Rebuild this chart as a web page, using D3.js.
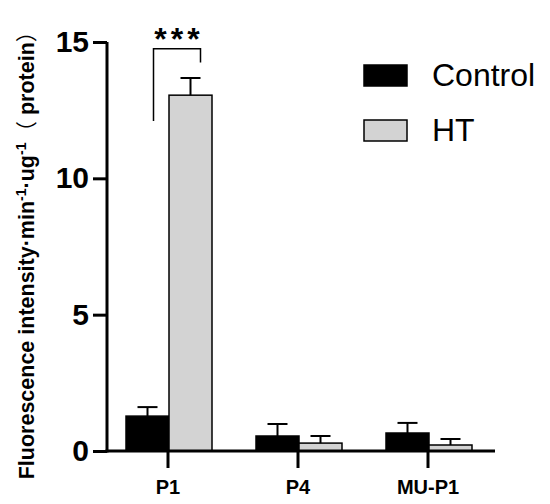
<!DOCTYPE html>
<html>
<head>
<meta charset="utf-8">
<script src="https://cdn.jsdelivr.net/npm/d3@7"></script>
<style>
  body { margin: 0; background: #fff; }
  svg { display: block; }
</style>
</head>
<body>
<svg id="chart"></svg>
<script>
// data
const groups = ["P1", "P4", "MU-P1"];
const series = ["Control", "HT"];
const means = {
    "Control": [1.28, 0.55, 0.66],
    "HT": [13.05, 0.29, 0.22]
};
const errs = {
    "Control": [0.33, 0.44, 0.37],
    "HT": [0.63, 0.26, 0.22]
};
const yTicks = [0, 5, 10, 15];
const colors = { "Control": "#000000", "HT": "#d3d3d3" };

const width = 550;
const height = 504;

const svg = d3.select("#chart")
    .attr("width", width)
    .attr("height", height);

const y = d3.scaleLinear()
    .domain([0, 15])
    .range([451, 42]);

const x0 = d3.scaleBand()
    .domain(groups)
    .range([103, 493]);

const x1 = d3.scaleBand()
    .domain(series)
    .range([0, 86]);

// bars
const g = svg.append("g");
groups.forEach(function (grp, i) {
    const left = x0(grp) + x0.bandwidth() / 2 - 42;
    series.forEach(function (s) {
        const bx = left + x1(s);
        const v = means[s][i];
        g.append("rect")
            .attr("x", bx)
            .attr("y", y(v))
            .attr("width", x1.bandwidth())
            .attr("height", y(0) - y(v))
            .attr("fill", colors[s])
            .attr("stroke", "#000")
            .attr("stroke-width", 1.5);
        // error bar (upper only)
        const cx = bx + x1.bandwidth() / 2;
        const top = y(v + errs[s][i]);
        g.append("line")
            .attr("x1", cx).attr("x2", cx)
            .attr("y1", y(v)).attr("y2", top)
            .attr("stroke", "#000").attr("stroke-width", 2);
        g.append("line")
            .attr("x1", cx - 10).attr("x2", cx + 10)
            .attr("y1", top).attr("y2", top)
            .attr("stroke", "#000").attr("stroke-width", 2);
    });
});

// y axis
const yAxis = svg.append("g")
    .attr("transform", "translate(107,0)")
    .call(d3.axisLeft(y).tickValues(yTicks).tickSize(14).tickPadding(4));
yAxis.select(".domain").attr("stroke-width", 3).attr("d", "M0," + (y(0) + 1.5) + "V" + y(15));
yAxis.selectAll(".tick line").attr("stroke-width", 3);
yAxis.selectAll(".tick text")
    .attr("font-family", "Liberation Sans, Arial, sans-serif")
    .attr("font-weight", "bold")
    .attr("font-size", 30)
    .attr("fill", "#000");

// x axis
const xAxis = svg.append("g")
    .attr("transform", "translate(0," + y(0) + ")")
    .call(d3.axisBottom(x0).tickSize(17).tickPadding(12));
xAxis.select(".domain").attr("stroke-width", 3).attr("d", "M105.5,0H495");
xAxis.selectAll(".tick line").attr("stroke-width", 3);
xAxis.selectAll(".tick text")
    .attr("font-family", "Liberation Sans, Arial, sans-serif")
    .attr("font-weight", "bold")
    .attr("font-size", 20)
    .attr("fill", "#000");

// y axis title
const title = svg.append("text")
    .attr("transform", "translate(34,250) rotate(-90)")
    .attr("text-anchor", "middle")
    .attr("font-family", "Liberation Sans, Arial, 'Noto Sans CJK SC', sans-serif")
    .attr("font-weight", "bold")
    .attr("font-size", 21.5)
    .attr("fill", "#000");
title.append("tspan").text("Fluorescence intensity·min");
title.append("tspan").attr("font-size", 14).attr("dy", -8).text("-1");
title.append("tspan").attr("dy", 8).text("·ug");
title.append("tspan").attr("font-size", 14).attr("dy", -8).text("-1");
title.append("tspan").attr("dy", 8)
    .attr("font-family", "'Noto Sans CJK SC', sans-serif")
    .attr("font-weight", "normal")
    .text("（");
title.append("tspan").text(" protein");
title.append("tspan")
    .attr("font-family", "'Noto Sans CJK SC', sans-serif")
    .attr("font-weight", "normal")
    .text("）");

// significance bracket
const hx = x0("P1") + x0.bandwidth() / 2 - 42 + x1("HT") + x1.bandwidth() / 2;
const cx0 = x0("P1") + x0.bandwidth() / 2 - 42 + x1("Control") + x1.bandwidth() / 2;
svg.append("path")
    .attr("d", "M" + (cx0 + 6) + "," + y(12.1) + "V" + y(14.75) + "H" + (hx + 10) + "V" + y(14.25))
    .attr("fill", "none")
    .attr("stroke", "#000")
    .attr("stroke-width", 1.5);
svg.append("text")
    .attr("x", (cx0 + hx) / 2 + 10)
    .attr("y", 50)
    .attr("text-anchor", "middle")
    .attr("font-family", "Liberation Sans, Arial, sans-serif")
    .attr("font-weight", "bold")
    .attr("font-size", 32)
    .attr("letter-spacing", 4)
    .text("***");

// legend
const legend = svg.append("g");
series.forEach(function (s, i) {
    const ly = 65 + i * 55;
    legend.append("rect")
        .attr("x", 364).attr("y", ly)
        .attr("width", 43).attr("height", 21)
        .attr("fill", colors[s])
        .attr("stroke", "#000")
        .attr("stroke-width", 1.5);
    legend.append("text")
        .attr("x", 432).attr("y", ly + 21)
        .attr("font-family", "Liberation Sans, Arial, sans-serif")
        .attr("font-size", 32)
        .attr("fill", "#000")
        .text(s);
});
</script>
</body>
</html>
